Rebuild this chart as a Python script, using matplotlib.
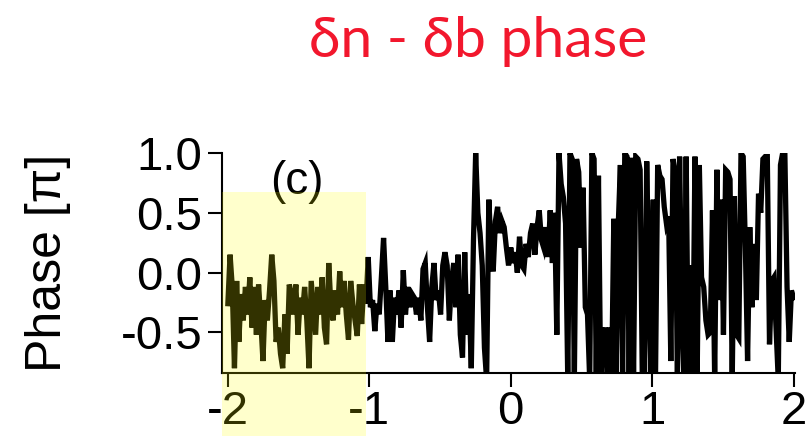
import numpy as np
import matplotlib
matplotlib.use("Agg")
import matplotlib.pyplot as plt
from matplotlib.patches import Rectangle
from matplotlib.transforms import blended_transform_factory

# ---- data (phase in units of pi) ----
seg1 = [-0.26, 0.15, -0.12, -0.80, -0.07, -0.58, -0.18, -0.40, -0.12, -0.35,
        -0.04, -0.46, -0.12, -0.52, -0.10, -0.40, -0.74, -0.23, -0.40, -0.15,
        0.15, -0.07, -0.58, -0.46, -0.68, -0.80, -0.35, -0.68, -0.10, -0.18,
        -0.35, -0.10, -0.52, -0.21, -0.35, -0.12, -0.40, -0.80, -0.07, -0.29]
seg2 = [-0.52, -0.12, -0.35, -0.04, -0.46, -0.60, 0.08, -0.29, -0.40, -0.15,
        -0.35, 0.01, -0.29, -0.07, -0.35, -0.56, -0.07, -0.26, -0.40, -0.53,
        -0.10, -0.43, -0.10, -0.26, 0.13, -0.29, -0.23, -0.49, -0.26, -0.35,
        -0.04, 0.29, -0.12, -0.58, -0.15, -0.58, -0.21, -0.35, -0.15, -0.46,
        0.02, -0.35, -0.12, -0.29, -0.18]
seg3 = [-0.21, -0.35, -0.21, -0.40, 0.03, 0.08, -0.29, -0.58, -0.12, 0.08,
        -0.23, -0.15, -0.35, 0.06, 0.17, 0.06, -0.40, -0.07, 0.08, -0.29,
        0.15, -0.52, -0.71, 0.17, -0.52, -0.18, -0.80, 0.27, 1.00, 0.50,
        0.33, 0.06, -0.63, -0.90, 0.61, 0.21, 0.01, 0.43, 0.55, 0.33,
        0.43, 0.38, 0.21, 0.06]
seg4 = [0.21, 0.08, 0.17, 0.00, 0.30, 0.06, 0.03, 0.24, 0.13, 0.33,
        0.41, 0.15, 0.38, 0.52, 0.27, 0.21, 0.38, 0.13, 0.52, 0.08,
        0.50, -0.52, 1.00, 0.74, 0.63, 0.41, -0.90, 1.00, 0.95, -0.90,
        0.95, 0.84, 0.21, 0.71, -0.29, -0.35, -0.90, 1.00, 0.95, -0.90,
        0.81, -0.90, -0.58, -0.46, -0.90]
seg5 = [-0.46, -0.90, 0.45, -0.90, 0.38, 0.90, -0.90, 1.00, 0.97, -0.90,
        0.96, -0.90, 0.97, 0.95, 0.86, -0.90, -0.90, 0.93, -0.04, -0.90,
        0.61, -0.90, 0.90, 0.81, 0.78, 0.55, 0.41, 0.47, -0.74, 0.95,
        0.84, -0.90, 0.97, -0.30, -0.90, 0.97, -0.90, 0.06, -0.90, 0.97,
        -0.90, 0.90]
seg6 = [-0.04, -0.12, -0.40, -0.52, -0.50, 0.52, -0.90, 0.86, -0.23, 0.61,
        -0.52, 0.86, 0.84, 0.78, -0.90, 0.64, -0.52, -0.55, 1.00, 0.97,
        0.21, -0.74, 0.38, -0.29, 0.24, -0.23, 0.66, 0.50, 0.95, 0.97,
        0.97, -0.60, -0.07, -0.04, -0.46, -0.90, 0.90, 1.00, 1.00, -0.12,
        -0.58, -0.15, -0.21]
phase = seg1 + seg2 + seg3 + seg4 + seg5 + seg6
t_start, t_end = -2.0, 2.0
xticks = [-2, -1, 0, 1, 2]
xticklabels = ["-2", "-1", "0", "1", "2"]
yticks = [-0.5, 0.0, 0.5, 1.0]
yticklabels = ["-0.5", "0.0", "0.5", "1.0"]
highlight = (-2.042, -1.025)   # shaded x-range
title = "\u03b4n - \u03b4b phase"
panel = "(c)"
ylabel = "Phase [\u03c0]"

t = np.linspace(t_start, t_end, len(phase))

plt.rcParams["font.family"] = ["Liberation Sans", "DejaVu Sans"]
fig = plt.figure(figsize=(8.1, 4.36), dpi=100)
ax = fig.add_axes([0.274, 0.1445, 0.707, 0.5045])

ax.plot(t, phase, color="black", lw=3.8, solid_joinstyle="miter")
ax.set_xlim(-2.042, 2.007)
ax.set_ylim(-0.84, 1.0)

for s in ["top", "right"]:
    ax.spines[s].set_visible(False)
for s in ["left", "bottom"]:
    ax.spines[s].set_linewidth(1.5)

ax.set_xticks(xticks)
ax.set_xticklabels(xticklabels)
ax.set_yticks(yticks)
ax.set_yticklabels(yticklabels)
ax.tick_params(axis="both", direction="out", length=10, width=1.5,
               labelsize=34, pad=4)
ax.tick_params(axis="x", pad=2)
ax.set_ylabel(ylabel, fontsize=36, labelpad=36)

ax.text(-1.51, 0.76, panel, fontsize=33, ha="center", va="center")

fig.text(0.59, 0.905, title, fontsize=41, color="#f2172d", ha="center",
         va="center", family=["Lato", "DejaVu Sans"])

tr = blended_transform_factory(ax.transData, fig.transFigure)
rect = Rectangle((highlight[0], 0.0), highlight[1] - highlight[0], 0.56,
                 transform=tr, facecolor=(1.0, 1.0, 0.0), alpha=0.2,
                 edgecolor="none", zorder=10, clip_on=False)
fig.patches.append(rect)

fig.savefig("out.png", dpi=100)
